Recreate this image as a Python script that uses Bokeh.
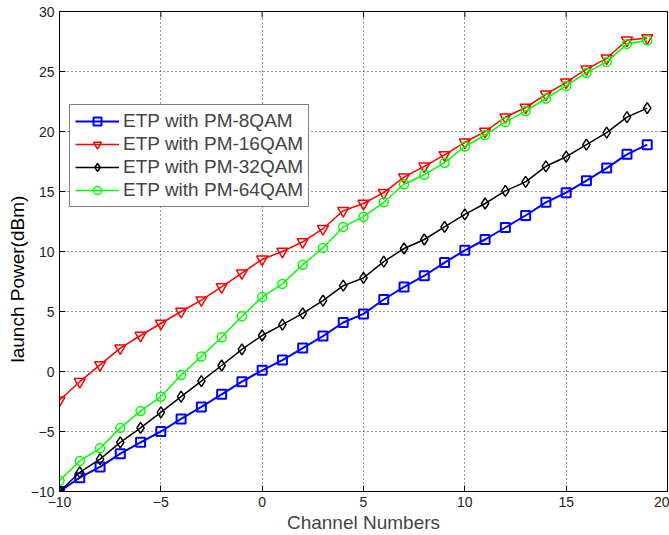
from bokeh.plotting import figure
from bokeh.models import Range1d, FixedTicker, Legend, LegendItem, Title
from bokeh.embed import file_html
from bokeh.resources import INLINE

channels = [-10, -9, -8, -7, -6, -5, -4, -3, -2, -1, 0, 1, 2, 3, 4,
            5, 6, 7, 8, 9, 10, 11, 12, 13, 14, 15, 16, 17, 18, 19]

pm8qam = [-10, -8.85, -7.95, -6.85, -5.9, -5.0, -3.95, -2.95, -1.9, -0.85,
          0.1, 0.95, 1.95, 2.95, 4.08, 4.8, 6.0, 7.05, 7.98, 9.08,
          10.1, 11.0, 12.0, 13.0, 14.1, 14.9, 15.9, 16.95, 18.1, 18.9]
pm16qam = [-2.4, -0.85, 0.55, 1.95, 3.0, 4.0, 5.0, 5.95, 7.05, 8.2,
           9.35, 10.0, 10.8, 11.9, 13.4, 14.0, 14.9, 16.2, 17.1, 18.05,
           19.1, 20.0, 21.2, 22.0, 23.1, 24.1, 25.2, 26.1, 27.6, 27.8]
pm32qam = [-10, -8.4, -7.3, -5.9, -4.7, -3.4, -2.1, -0.8, 0.5, 1.85,
           3.0, 3.9, 4.85, 5.9, 7.15, 7.8, 9.15, 10.25, 11.0, 12.05,
           13.1, 14.0, 15.05, 15.8, 17.1, 17.9, 18.9, 19.9, 21.2, 21.95]
pm64qam = [-9.1, -7.45, -6.4, -4.7, -3.3, -2.1, -0.3, 1.25, 2.85, 4.6,
           6.2, 7.3, 8.9, 10.3, 12.05, 12.9, 14.1, 15.6, 16.4, 17.4,
           18.75, 19.7, 20.8, 21.7, 22.75, 23.8, 24.9, 25.8, 27.3, 27.6]

series_names = ["ETP with PM-8QAM", "ETP with PM-16QAM", "ETP with PM-32QAM", "ETP with PM-64QAM"]
x_ticks = [-10, -5, 0, 5, 10, 15, 20]
y_ticks = [-10, -5, 0, 5, 10, 15, 20, 25, 30]
x_label = "Channel Numbers"
y_label = "launch Power(dBm)"

FONT = "Liberation Sans"
X0, X1, Y0, Y1 = -10, 20, -10, 30

p = figure(width=669, height=535, output_backend="svg", toolbar_location=None,
           x_range=Range1d(X0, X1), y_range=Range1d(Y0, Y1),
           min_border_left=59, min_border_right=2, min_border_top=11, min_border_bottom=44)
p.background_fill_color = "white"
p.border_fill_color = "white"
p.outline_line_color = "black"
p.outline_line_width = 1

for ax in (p.xaxis[0], p.yaxis[0]):
    ax.major_label_text_font = FONT
    ax.major_label_text_font_size = "14px"
    ax.major_label_text_color = "#222222"
    ax.major_tick_in = 6
    ax.major_tick_out = 0
    ax.minor_tick_in = 0
    ax.minor_tick_out = 0
    ax.axis_line_color = "black"
    ax.major_tick_line_color = "black"
    ax.major_label_standoff = 5
p.xaxis[0].ticker = FixedTicker(ticks=x_ticks)
p.yaxis[0].ticker = FixedTicker(ticks=y_ticks)
p.xaxis[0].axis_label = x_label
p.xaxis[0].axis_label_text_font = FONT
p.xaxis[0].axis_label_text_font_size = "19px"
p.xaxis[0].axis_label_text_font_style = "normal"
p.xaxis[0].axis_label_standoff = 2

p.xgrid.ticker = FixedTicker(ticks=x_ticks)
p.ygrid.ticker = FixedTicker(ticks=y_ticks)
for g in (p.xgrid[0], p.ygrid[0]):
    g.grid_line_color = "#303030"
    g.grid_line_dash = "1 3"
    g.grid_line_width = 1

# inward ticks on the top and right edges (box on), placed at the tick values
tick_len_x = 0.5   # data units along y (~6 px)
tick_len_y = 0.3   # data units along x (~6 px)
p.segment(x0=x_ticks, y0=[Y1] * len(x_ticks), x1=x_ticks, y1=[Y1 - tick_len_x] * len(x_ticks),
          line_color="black", line_width=1)
p.segment(x0=[X1] * len(y_ticks), y0=y_ticks, x1=[X1 - tick_len_y] * len(y_ticks), y1=y_ticks,
          line_color="black", line_width=1)

styles = [
    (pm8qam, "#0000ff", "square", 9, 2.0),
    (pm16qam, "#ff0000", "inverted_triangle", 11, 1.5),
    (pm32qam, "#000000", "diamond", 11, 1.5),
    (pm64qam, "#00ff00", "circle", 9, 1.5),
]
items = []
for (vals, color, marker, size, lw), name in zip(styles, series_names):
    r1 = p.line(channels, vals, line_color=color, line_width=lw)
    r2 = p.scatter(channels, vals, marker=marker, size=size, line_color=color,
                   fill_color=None, line_width=lw)
    items.append(LegendItem(label=name, renderers=[r1, r2]))

legend = Legend(items=items, location=(10, 284))
legend.label_text_font = FONT
legend.label_text_font_size = "19px"
legend.label_height = 20
legend.glyph_height = 20
legend.glyph_width = 44
legend.spacing = 1
legend.padding = 5
legend.label_standoff = 4
legend.border_line_color = "black"
legend.border_line_width = 1
legend.background_fill_color = "white"
legend.background_fill_alpha = 1
p.add_layout(legend, "center")

ytitle = Title(text=y_label, align="left", offset=129, standoff=0,
               text_font=FONT, text_font_size="19px", text_font_style="normal",
               text_color="black")
p.add_layout(ytitle, "left")

open("out.html", "w").write(file_html(p, INLINE))
